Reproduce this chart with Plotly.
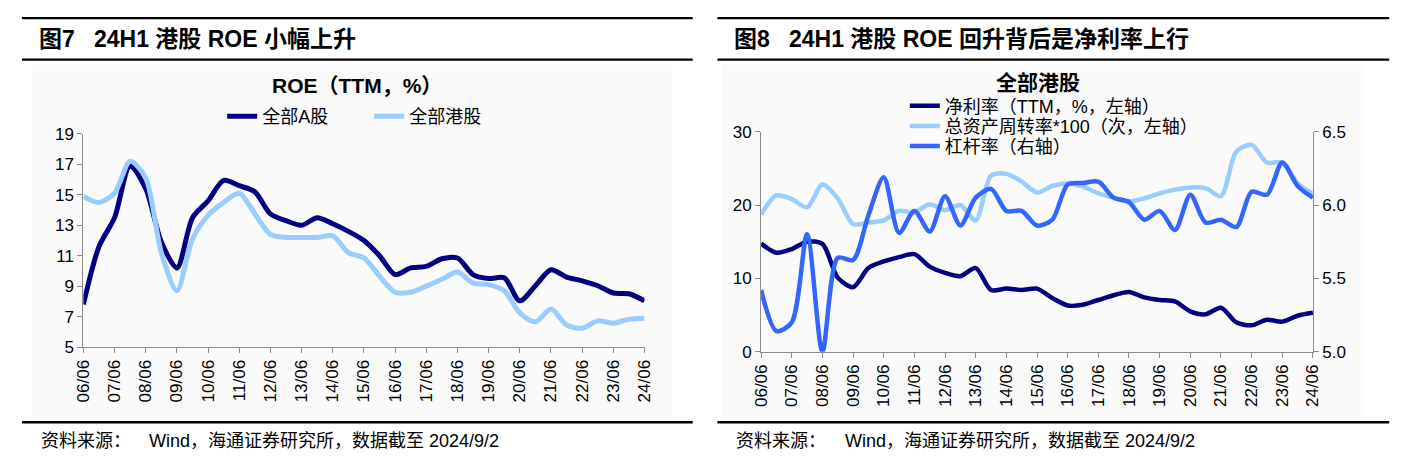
import plotly.graph_objects as go

# ---------------- data ----------------
periods = [f"{y:02d}/{m}" for y in range(6, 25) for m in ("06", "12")][:-1]
tick_labels = [p for p in periods if p.endswith("/06")]

roe_a = [7.8, 11.6, 13.5, 16.9, 15.4, 11.9, 10.2, 13.5, 14.6, 15.95, 15.6, 15.2,
         13.75, 13.3, 13.0, 13.5, 13.1, 12.6, 12.0, 11.0, 9.76, 10.2, 10.3, 10.8,
         10.85, 9.76, 9.5, 9.55, 8.04, 9.03, 10.08, 9.6, 9.35, 9.03, 8.55, 8.5, 8.04]
roe_hk = [14.9, 14.5, 15.1, 17.2, 16.1, 11.2, 8.7, 12.1, 13.65, 14.5, 15.1, 13.75,
          12.4, 12.2, 12.2, 12.2, 12.3, 11.2, 10.85, 9.66, 8.6, 8.6, 9.0, 9.45,
          9.93, 9.2, 9.1, 8.7, 7.25, 6.66, 7.5, 6.45, 6.24, 6.72, 6.57, 6.83, 6.9]

net_margin = [14.76, 13.5, 14.0, 15.0, 14.7, 10.1, 8.8, 11.4, 12.3, 12.9, 13.3, 11.6,
              10.75, 10.3, 11.4, 8.4, 8.6, 8.4, 8.6, 7.3, 6.3, 6.4, 7.05, 7.7,
              8.15, 7.4, 7.05, 6.85, 5.5, 5.1, 6.0, 4.0, 3.6, 4.35, 4.1, 4.9, 5.3]
asset_turnover = [18.7, 21.3, 20.8, 19.7, 22.8, 20.9, 17.4, 17.6, 17.9, 19.2, 19.0, 20.1,
                  19.3, 20.0, 17.9, 24.0, 24.25, 23.2, 21.7, 22.6, 22.95, 22.5, 21.6, 21.0,
                  20.5, 20.9, 21.6, 22.1, 22.4, 22.3, 21.2, 27.3, 28.2, 25.8, 25.8, 22.95, 21.5]
leverage = [5.42, 5.14, 5.2, 5.8, 5.0, 5.64, 5.625, 5.93, 6.19, 5.81, 5.96, 5.82,
            6.06, 5.86, 6.05, 6.11, 5.96, 5.96, 5.86, 5.9, 6.14, 6.15, 6.16, 6.05,
            6.02, 5.9, 5.96, 5.83, 6.07, 5.88, 5.9, 5.85, 6.09, 6.07, 6.29, 6.13, 6.05]

# ---------------- style ----------------
NAVY = "#000080"
LIGHT = "#99CCFF"
BLUE = "#3366FF"
AXIS = "#8c8c8c"
LAT = "Liberation Sans, Arial, Noto Sans CJK SC"
CJK = "Liberation Sans, Noto Sans CJK SC"

# the page body keeps its default 8px margin; the figure fills the rest of the window
OFF = 8
W, H = 1422 - 2 * OFF, 470 - 2 * OFF


def px(x):  # page pixel -> paper fraction
    return (x - OFF) / W


def py(y):
    return 1 - (y - OFF) / H


fig = go.Figure()

spl = dict(shape="spline", smoothing=0.8)
fig.add_trace(go.Scatter(x=periods, y=roe_a, name="全部A股", mode="lines",
                         line=dict(color=NAVY, width=5, **spl),
                         xaxis="x", yaxis="y", legend="legend"))
fig.add_trace(go.Scatter(x=periods, y=roe_hk, name="全部港股", mode="lines",
                         line=dict(color=LIGHT, width=5, **spl),
                         xaxis="x", yaxis="y", legend="legend"))
fig.add_trace(go.Scatter(x=periods, y=net_margin, name="净利率（TTM，%，左轴）", mode="lines",
                         line=dict(color=NAVY, width=4.5, **spl),
                         xaxis="x2", yaxis="y2", legend="legend2"))
fig.add_trace(go.Scatter(x=periods, y=asset_turnover, name="总资产周转率*100（次，左轴）", mode="lines",
                         line=dict(color=LIGHT, width=4.5, **spl),
                         xaxis="x2", yaxis="y2", legend="legend3"))
fig.add_trace(go.Scatter(x=periods, y=leverage, name="杠杆率（右轴）", mode="lines",
                         line=dict(color=BLUE, width=4.5, **spl),
                         xaxis="x2", yaxis="y3", legend="legend4"))

tickfont = dict(family=LAT, size=17, color="#000000")
xcommon = dict(type="category", range=[0, 36], tickmode="array",
               tickvals=tick_labels, ticktext=tick_labels, tickangle=-90,
               ticks="outside", ticklen=5, tickcolor=AXIS, showline=True,
               linecolor=AXIS, linewidth=1, showgrid=False, zeroline=False,
               tickfont=tickfont, fixedrange=True)
ycommon = dict(ticks="outside", ticklen=5, tickcolor=AXIS, showline=True,
               linecolor=AXIS, linewidth=1, showgrid=False, zeroline=False,
               tickfont=tickfont, fixedrange=True)

shapes = []
# light background panels
for x0, x1 in ((23, 672), (722, 1373)):
    shapes.append(dict(type="rect", xref="paper", yref="paper", x0=px(x0), x1=px(x1),
                       y0=py(425), y1=py(58), fillcolor="#fafafa", line=dict(width=0),
                       layer="below"))
# black rules
for x0, x1 in ((13, 693), (718, 1399)):
    for y in (9.2, 52.5, 431):
        shapes.append(dict(type="line", xref="paper", yref="paper", x0=px(x0), x1=px(x1),
                           y0=py(y), y1=py(y), line=dict(color="#000000", width=2.4)))

GAP = "\u00a0\u00a0\u00a0"
annotations = [
    dict(text=f"<b>图7{GAP}24H1 港股 ROE 小幅上升</b>", x=px(28), y=py(31),
         xanchor="left", yanchor="middle", font=dict(family=CJK, size=23, color="#000")),
    dict(text=f"<b>图8{GAP}24H1 港股 ROE 回升背后是净利率上行</b>", x=px(733), y=py(31),
         xanchor="left", yanchor="middle", font=dict(family=CJK, size=23, color="#000")),
    dict(text="<b>ROE（TTM，%）</b>", x=px(353), y=py(80),
         xanchor="center", yanchor="middle", font=dict(family=CJK, size=21, color="#000")),
    dict(text="<b>全部港股</b>", x=px(1043), y=py(76),
         xanchor="center", yanchor="middle", font=dict(family=CJK, size=21, color="#000")),
    dict(text="资料来源：", x=px(30), y=py(450), xanchor="left", yanchor="middle",
         font=dict(family=CJK, size=18, color="#000")),
    dict(text="Wind，海通证券研究所，数据截至 2024/9/2", x=px(140), y=py(450),
         xanchor="left", yanchor="middle", font=dict(family=CJK, size=18, color="#000")),
    dict(text="资料来源：", x=px(735), y=py(450), xanchor="left", yanchor="middle",
         font=dict(family=CJK, size=18, color="#000")),
    dict(text="Wind，海通证券研究所，数据截至 2024/9/2", x=px(845), y=py(450),
         xanchor="left", yanchor="middle", font=dict(family=CJK, size=18, color="#000")),
]
for a in annotations:
    a.update(xref="paper", yref="paper", showarrow=False)

legfont = dict(family=CJK, size=18, color="#000")


def rlegend(yc):
    return dict(orientation="v", x=px(908), y=py(yc), xanchor="left", yanchor="middle",
                bgcolor="rgba(0,0,0,0)", font=legfont)


fig.update_layout(
    width=W, height=H,
    margin=dict(l=0, r=0, t=0, b=0),
    paper_bgcolor="#ffffff",
    plot_bgcolor="rgba(0,0,0,0)",
    showlegend=True,
    xaxis=dict(domain=[px(75.3), px(644.1)], anchor="y", **xcommon),
    yaxis=dict(domain=[py(352.5), py(130)], anchor="x", range=[5, 19],
               tick0=5, dtick=2, **ycommon),
    xaxis2=dict(domain=[px(762.3), px(1321.7)], anchor="y2", **xcommon),
    yaxis2=dict(domain=[py(357.3), py(127.7)], anchor="x2", range=[0, 30],
                tick0=0, dtick=10, **ycommon),
    yaxis3=dict(overlaying="y2", anchor="x2", side="right", range=[5.0, 6.5],
                tick0=5, dtick=0.5, tickformat=".1f", **ycommon),
    legend=dict(orientation="h", x=px(216), y=py(112), xanchor="left", yanchor="middle",
                bgcolor="rgba(0,0,0,0)", font=legfont,
                entrywidth=102, entrywidthmode="pixels"),
    legend2=rlegend(101),
    legend3=rlegend(122),
    legend4=rlegend(143),
    shapes=shapes,
    annotations=annotations,
)

fig.write_html("out.html", config={"displayModeBar": False})
